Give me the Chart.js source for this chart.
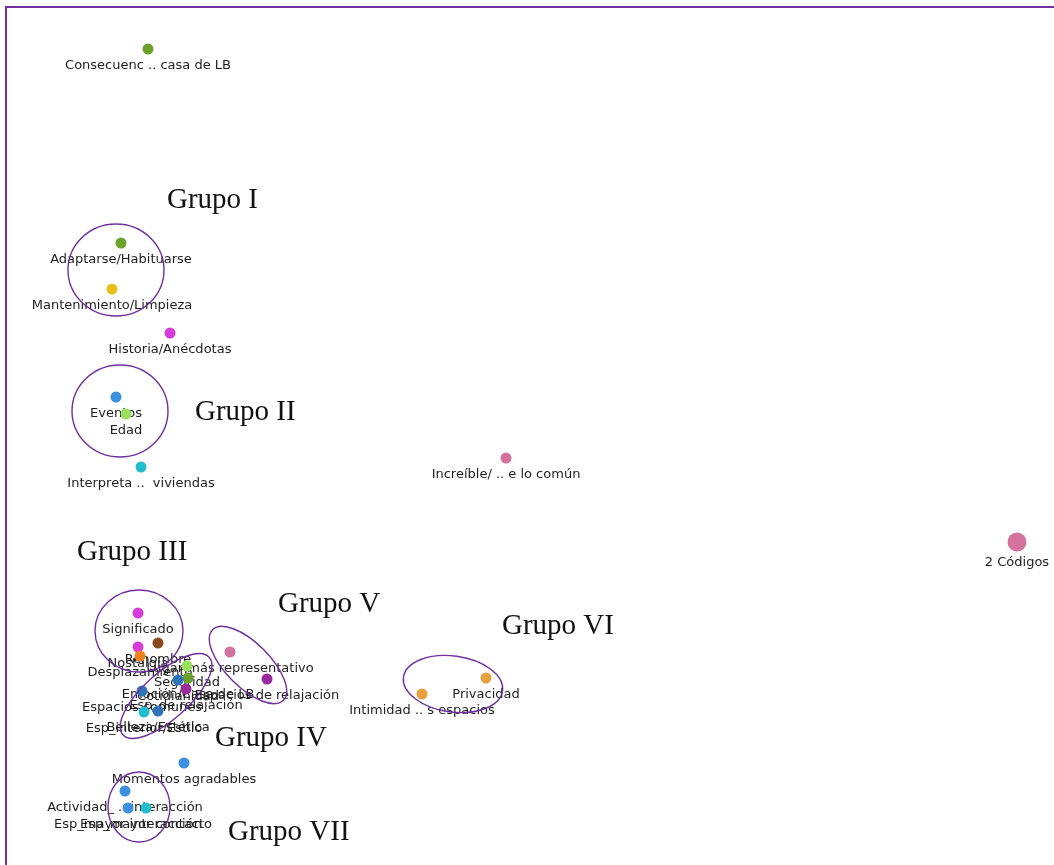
<!DOCTYPE html>
<html>
<head>
<meta charset="utf-8">
<script src="https://cdn.jsdelivr.net/npm/chart.js@4.4.1/dist/chart.umd.min.js"></script>
<style>
    html, body { margin: 0; padding: 0; background: #fff; overflow: hidden; }
    #wrap { position: relative; width: 1054px; height: 865px; }
    #marco { position: absolute; left: 5px; top: 6px; right: -10px; bottom: -10px;
             border-left: 2px solid #7030a0; border-top: 2px solid #7030a0; }
</style>
</head>
<body>
<div id="wrap">
    <canvas id="redChart" width="1054" height="865"></canvas>
    <div id="marco"></div>
</div>
<script>
// Códigos de la red (coordenadas del mapa: x a la derecha, y hacia abajo)
let codigos = [
    'Consecuenc .. casa de LB', 'Adaptarse/Habituarse', 'Mantenimiento/Limpieza', 'Historia/Anécdotas',
    'Eventos', 'Edad', 'Interpreta ..  viviendas', 'Increíble/ .. e lo común', '2 Códigos',
    'Significado', 'Nostalgia', 'Renombre', 'Desplazamiento', 'Lugar más representativo',
    'Seguridad', 'Emoción/Casa de LB', 'Cotidianidad', 'Esp_de relajación', 'Espacios comunes',
    'Esp_interior/Estilo', 'Belleza/Estética', 'Espacios de relajación', 'Privacidad',
    'Intimidad .. s espacios', 'Momentos agradables', 'Actividad_ .. interacción',
    'Esp_mayor interacción', 'Esp_mayor contacto'
];
let mapaX = [148, 121, 112, 170, 116, 126, 141, 506, 1017, 138, 138, 158, 140, 230,
             187, 188, 178, 186, 142, 144, 158, 267, 486, 422, 184, 125, 128, 146];
let mapaY = [49, 243, 289, 333, 397, 414, 467, 458, 542, 613, 647, 643, 656, 652,
             666, 678, 680, 689, 691, 712, 711, 679, 678, 694, 763, 791, 808, 808];

// Grupos y posición de su rótulo
let grupos = ['Grupo I', 'Grupo II', 'Grupo III', 'Grupo V', 'Grupo VI', 'Grupo IV', 'Grupo VII'];
let grupoX = [167, 195, 77, 278, 502, 215, 228];
let grupoY = [200, 412, 552, 604, 626, 738, 832];

// contornos: centro x, centro y, radio x, radio y, giro (grados)
let contornos = [
    [116, 270, 48, 46, 0],
    [120, 411, 48, 46, 0],
    [139, 631, 44, 41, 0],
    [248, 665, 50, 22, 45],
    [453, 684, 50, 28, 8],
    [166, 696, 58, 23, -42],
    [139, 807, 31, 35, 0]
];

let colores = ['#6ca22c', '#6ca22c', '#e8c01c', '#d93bd9', '#3d8fe0', '#98e05e', '#22bccc',
               '#d4729e', '#d4729e', '#d93bd9', '#d93bd9', '#8b4a1e', '#f0831e', '#d4729e',
               '#98e05e', '#6ca22c', '#2f74b8', '#9b2a9b', '#2f74b8', '#22bccc', '#2f74b8',
               '#9b2a9b', '#e6a03e', '#e6a03e', '#3d8fe0', '#3d8fe0', '#3d8fe0', '#22bccc'];
let radios = codigos.map(c => c === '2 Códigos' ? 9.5 : 5.5);

let puntos = mapaX.map((x, i) => ({ x: x, y: mapaY[i] }));

const rotulos = {
    id: 'rotulos',
    beforeDatasetsDraw(chart) {
        const ctx = chart.ctx;
        const meta = chart.getDatasetMeta(0);
        ctx.save();
        ctx.font = '13px "DejaVu Sans"';
        ctx.textAlign = 'center';
        ctx.textBaseline = 'middle';
        ctx.fillStyle = '#1e1e1e';
        meta.data.forEach((pt, i) => {
            ctx.fillText(codigos[i], pt.x, pt.y + radios[i] + 11.5);
        });
        ctx.restore();
    },
    afterDatasetsDraw(chart) {
        const ctx = chart.ctx;
        const sx = chart.scales.x, sy = chart.scales.y;
        ctx.save();
        ctx.strokeStyle = '#7030a0';
        ctx.lineWidth = 1.4;
        contornos.forEach(c => {
            let cx = sx.getPixelForValue(c[0]);
            let cy = sy.getPixelForValue(c[1]);
            let rx = Math.abs(sx.getPixelForValue(c[0] + c[2]) - cx);
            let ry = Math.abs(sy.getPixelForValue(c[1] + c[3]) - cy);
            ctx.beginPath();
            ctx.ellipse(cx, cy, rx, ry, c[4] * Math.PI / 180, 0, Math.PI * 2);
            ctx.stroke();
        });
        ctx.font = '29px "Liberation Serif"';
        ctx.textAlign = 'left';
        ctx.textBaseline = 'middle';
        ctx.fillStyle = '#111';
        grupos.forEach((g, i) => {
            ctx.fillText(g, sx.getPixelForValue(grupoX[i]), sy.getPixelForValue(grupoY[i]));
        });
        ctx.restore();
    }
};

let ctx = document.getElementById('redChart').getContext('2d');
new Chart(ctx, {
    type: 'scatter',
    data: {
        datasets: [{
            label: 'Códigos',
            data: puntos,
            backgroundColor: colores,
            pointBackgroundColor: colores,
            pointBorderWidth: 0,
            pointRadius: radios,
            pointHoverRadius: radios,
            clip: false
        }]
    },
    options: {
        responsive: false,
        animation: false,
        events: [],
        layout: { padding: 0, autoPadding: false },
        plugins: {
            legend: { display: false },
            tooltip: { enabled: false }
        },
        scales: {
            x: { type: 'linear', min: 0, max: 1054, display: false },
            y: { type: 'linear', min: 0, max: 865, reverse: true, display: false }
        }
    },
    plugins: [rotulos]
});
</script>
</body>
</html>
